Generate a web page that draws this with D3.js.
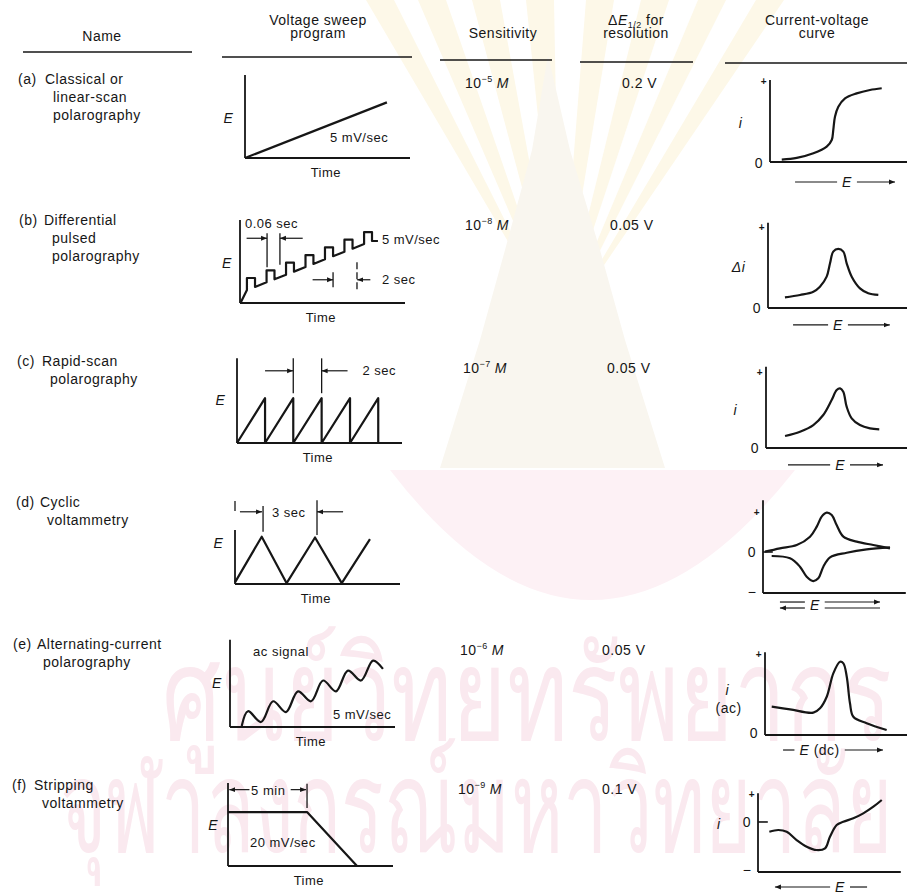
<!DOCTYPE html>
<html>
<head>
<meta charset="utf-8">
<script src="https://cdn.jsdelivr.net/npm/d3@7/dist/d3.min.js"></script>
<style>
  body { margin: 0; background: #fff; }
  svg text { font-family: "Liberation Sans", Arial, sans-serif; font-size: 14px; letter-spacing: 0.5px; fill: #161616; }
</style>
</head>
<body>
<div id="chart"></div>
<script>
const WIDTH = 907
const HEIGHT = 894

// ---- table content ----
const NAMES = [
    ["(a)", "Classical or", "linear-scan", "polarography"],
    ["(b)", "Differential", "pulsed", "polarography"],
    ["(c)", "Rapid-scan", "polarography"],
    ["(d)", "Cyclic", "voltammetry"],
    ["(e)", "Alternating-current", "polarography"],
    ["(f)", "Stripping", "voltammetry"]
];
const SENS_EXP = ["\u22125", "\u22128", "\u22127", null, "\u22126", "\u22129"];
const RESOLUTION = ["0.2 V", "0.05 V", "0.05 V", null, "0.05 V", "0.1 V"];

// voltage sweep programs: [time, E], both 0-100 of the sketch box
const SWEEP_A = [[0, 0], [86, 67]];
const SWEEP_B = [[0.6, 1.2], [4.2, 15.7], [4.2, 30.1], [9.1, 30.1], [9.1, 19.3],
    [16.1, 24.9], [16.1, 39.4], [20.9, 39.4], [20.9, 28.5],
    [27.9, 34.1], [27.9, 48.6], [32.7, 48.6], [32.7, 37.8],
    [39.7, 43.4], [39.7, 57.8], [44.5, 57.8], [44.5, 47],
    [51.5, 52.6], [51.5, 67.1], [56.4, 67.1], [56.4, 56.3],
    [63.3, 61.8], [63.3, 76.3], [68.2, 76.3], [68.2, 65.4],
    [75.2, 71.1], [75.2, 85.5], [80, 85.5], [80, 74.7], [83.6, 74.7]];
const SWEEP_C = [[0, 0], [17, 54], [17, 0], [34.1, 54], [34.1, 0], [51.3, 54], [51.3, 0],
    [68.5, 54], [68.5, 0], [85.6, 54], [85.6, 0]];
const SWEEP_D = [[0, 2], [16.2, 57], [31.3, 1], [48.5, 56], [64.7, 1], [81.8, 54]];
const SWEEP_E = [[7.1, 1.2], [10.9, 19], [18.8, 6], [26.1, 31], [33.9, 18], [41.2, 43],
    [49.1, 31], [56.4, 56], [64.2, 43], [71.5, 68], [79.4, 56], [86.7, 80], [92.7, 70]];
const SWEEP_F = [[0, 65], [47.9, 65], [78.2, 0]];
const SWEEPS = [SWEEP_A, SWEEP_B, SWEEP_C, SWEEP_D, SWEEP_E, SWEEP_F];
const SWEEP_TOP = [100, 100, 102, 65, 105, 100];

// notes written inside the sweep sketches: [text, time, E]
const SWEEP_NOTES = [
    [["5 mV/sec", 51.5, 19]],
    [["0.06 sec", 3, 90], ["5 mV/sec", 86, 71], ["2 sec", 86, 23]],
    [["2 sec", 76, 82]],
    [["3 sec", 22.4, 81]],
    [["ac signal", 14, 85.5], ["5 mV/sec", 62.4, 9.6]],
    [["5 min", 14, 86], ["20 mV/sec", 13.3, 23]]
];
// dimension arrows: [from time, to time, E]
const SWEEP_ARROWS = [
    [],
    [[4, 16.4, 78], [38, 24.2, 78], [44, 56.4, 28], [79, 71, 28]],
    [[17, 34, 87], [67, 51.3, 87]],
    [[3, 16.4, 87], [65.5, 49.7, 87]],
    [],
    [[13, 0.8, 92], [38, 47.3, 92]]
];
// dimension ticks: [time, E from, E to, dashed]
const SWEEP_TICKS = [
    [],
    [[16.4, 84, 43], [24.2, 84, 46], [56.4, 37, 19], [70.9, 49, 16, true]],
    [[34.1, 102, 60], [51.3, 102, 60]],
    [[0, 100, 88], [17, 94, 63], [49.7, 101, 59]],
    [],
    [[47.9, 99, 70]]
];

// current-voltage curves: [E, i], 0-100 of the sketch box
const IV_A = [[8.4, 3], [19.1, 5], [31, 10.6], [40.5, 18.7], [44.1, 26.8], [45.2, 39], [46.4, 55.2],
    [48.8, 67.4], [53.6, 77.7], [61.9, 83.7], [71.4, 87.8], [79.8, 89.9]];
const IV_B = [[12.1, 13], [22.9, 15.9], [32.4, 19.9], [37.1, 26], [41.9, 38.2], [44.3, 54.5], [46.6, 68.7],
    [50.2, 72], [53.8, 68.7], [56.2, 54.5], [59.8, 38.2], [65.7, 24], [71.6, 18], [78.8, 15.9]];
const IV_C = [[13.6, 14.6], [24.3, 19.9], [33.8, 28], [40.9, 40.2], [46.9, 58.5], [50.5, 70.7], [52.9, 72.8],
    [55.2, 68.7], [57.6, 50.4], [61.2, 36.2], [67.1, 28], [74.3, 24], [80.9, 22.8]];
const IV_D_UP = [[1.4, 50.4], [12.1, 54.5], [24.1, 58.5], [33.6, 68.7], [38.4, 80.9], [41.9, 93.1], [45.5, 98],
    [49.1, 95.1], [52.6, 82.9], [57.4, 68.7], [66.9, 62.6], [78.8, 58.5], [90.7, 54.5]];
const IV_D_DOWN = [[6.2, 45.1], [19.3, 42.3], [26.4, 32.1], [31.2, 19.9], [35.9, 14.6], [39.5, 17.9],
    [43.1, 32.1], [47.9, 43.5], [59.8, 49.1], [74.1, 53.3], [90.7, 55.7]];
const IV_E = [[4.8, 34.5], [17.9, 31.3], [34.5, 27.2], [39.3, 32.6], [44.1, 46.7], [48.8, 75.2], [53.6, 89.4],
    [56, 87.4], [58.4, 71.1], [60.7, 38.7], [63.1, 22.3], [72.6, 14.3], [86.9, 6.1]];
const IV_F = [[8.1, 49.1], [14.5, 51.2], [20.5, 49.1], [27.6, 39], [34.8, 30.9], [41.9, 26.8], [47.9, 28.9],
    [51.4, 43], [56.2, 57.3], [60.9, 61.3], [68.1, 65.5], [75.2, 71.5], [82.4, 79.6], [88.4, 87.8]];
const IV_CURVES = [[IV_A], [IV_B], [IV_C], [IV_D_UP, IV_D_DOWN], [IV_E], [IV_F]];
const IV_TOP = [100, 104, 99, 113, 101, 96];
const IV_TICKS = [
    [["+", 97.6], ["0", -1]],
    [["+", 97.6], ["0", 0]],
    [["+", 91.5], ["0", 0]],
    [["+", 97.6], ["0", 50], ["\u2212", 1]],
    [["+", 97.6], ["0", 2]],
    [["+", 94], ["0", 61], ["\u2212", 2]]
];
const IV_ZERO_TICK = [null, null, null, 50, null, 61];
const IV_YLABEL = [[["i", -21, 48]], [["\u0394i", -21, 50]], [["i", -22, 46]], [],
    [["i", -27, 55], ["(ac)", -26, 33]], [["i", -28, 59]]];
const IV_EAXIS = [
    {y: -24.4, from: 17.9, at: 55, to: 89.3, arrow: "end"},
    {y: -20.7, from: 17.9, at: 50, to: 87, arrow: "end"},
    {y: -20.7, from: 15.7, at: 52.9, to: 83.6, arrow: "end"},
    {y: -11, y2: -18.3, from: 12.1, at: 37, to: 83.6, arrow: "both"},
    {y: -18.3, from: 12.9, at: 39, to: 84.3, arrow: "end", dc: true},
    {y: -18.3, from: 12.1, at: 58.6, to: 77.9, arrow: "start"}
];

// library stamp printed behind the scan
const STAMP_LINES = ["ศูนย์วิทยทรัพยากร", "จุฬาลงกรณ์มหาวิทยาลัย"];

// ---- layout ----
const NAME_Y = [84, 225, 366, 507, 649, 790];
const NAME_X = [[18, 45, 53], [19, 44, 52], [17, 42, 50], [16, 40, 47], [13, 37, 43], [12, 34, 42]];
const VALUE_Y = [88, 230, 373, 0, 655, 794];
const SENS_X = [465, 465, 463, 0, 460, 458];
const RES_X = [622, 610, 607, 0, 602, 602];
const SWEEP_ORIGIN = [[245, 158], [240, 303], [237, 443], [235, 584], [230, 727], [228, 866]];
const E_LABEL = [[-10, 48], [-8, 48], [-10, 52], [-10, 49], [-8, 53], [-9, 49]];
const IV_ORIGIN = [[770, 162], [768, 308], [766, 448], [763, 593], [765, 735], [758, 872]];

var svg = d3.select("#chart").append("svg")
    .attr("width", WIDTH)
    .attr("height", HEIGHT);

svg.append("defs").append("marker")
    .attr("id", "arr")
    .attr("viewBox", "0 0 10 10")
    .attr("refX", 10).attr("refY", 5)
    .attr("markerWidth", 6).attr("markerHeight", 6)
    .attr("markerUnits", "userSpaceOnUse")
    .attr("orient", "auto-start-reverse")
    .append("path")
    .attr("d", "M0,1L10,5L0,9z")
    .attr("fill", "#161616");

// faint stamp behind the table
var stamp = svg.append("g");
[380, 432, 486, 540, 600, 655, 712, 770].forEach(function(tx) {
    stamp.append("path")
        .attr("d", `M560,330L${tx - 14},0L${tx + 14},0Z`)
        .attr("fill", "#fdf8e8");
});
stamp.append("path")
    .attr("d", "M548,55L532,150L505,250L480,340L455,420L440,468L665,468L650,420L625,340L600,250L570,150Z")
    .attr("fill", "#f9f6ef");
stamp.append("path")
    .attr("d", "M390,470Q590,730 795,470Z")
    .attr("fill", "#fdf1f5");
stamp.append("text")
    .attr("x", 162).attr("y", 740)
    .attr("textLength", 730).attr("lengthAdjust", "spacingAndGlyphs")
    .style("font-size", "130px").style("fill", "#fae9ef").style("letter-spacing", "0px")
    .text(STAMP_LINES[0]);
stamp.append("text")
    .attr("x", 60).attr("y", 852)
    .attr("textLength", 832).attr("lengthAdjust", "spacingAndGlyphs")
    .style("font-size", "130px").style("fill", "#fae9ef").style("letter-spacing", "0px")
    .text(STAMP_LINES[1]);

// ---- header ----
var head = svg.append("g");
head.append("text").attr("x", 102).attr("y", 41).attr("text-anchor", "middle").text("Name");
head.append("text").attr("x", 318).attr("y", 25).attr("text-anchor", "middle").text("Voltage sweep");
head.append("text").attr("x", 318).attr("y", 38).attr("text-anchor", "middle").text("program");
head.append("text").attr("x", 503).attr("y", 38).attr("text-anchor", "middle").text("Sensitivity");
var dE = head.append("text").attr("x", 636).attr("y", 25).attr("text-anchor", "middle");
dE.append("tspan").text("\u0394");
dE.append("tspan").style("font-style", "italic").text("E");
dE.append("tspan").attr("dy", 3).style("font-size", "9px").text("1/2");
dE.append("tspan").attr("dy", -3).text(" for");
head.append("text").attr("x", 636).attr("y", 38).attr("text-anchor", "middle").text("resolution");
head.append("text").attr("x", 817).attr("y", 25).attr("text-anchor", "middle").text("Current-voltage");
head.append("text").attr("x", 817).attr("y", 38).attr("text-anchor", "middle").text("curve");
[[23, 192, 52], [222, 412, 57], [440, 552, 60], [580, 693, 62], [725, 907, 63]].forEach(function(r) {
    head.append("line")
        .attr("x1", r[0]).attr("x2", r[1]).attr("y1", r[2]).attr("y2", r[2])
        .attr("stroke", "#161616").attr("stroke-width", 1.6);
});

// ---- rows ----
NAMES.forEach(function(lines, r) {
    var t = svg.append("text").attr("y", NAME_Y[r]);
    t.append("tspan").attr("x", NAME_X[r][0]).text(lines[0]);
    t.append("tspan").attr("x", NAME_X[r][1]).text(lines[1]);
    lines.slice(2).forEach(function(l, k) {
        t.append("tspan").attr("x", NAME_X[r][2]).attr("y", NAME_Y[r] + 18 * (k + 1)).text(l);
    });

    if (SENS_EXP[r]) {
        var s = svg.append("text").attr("x", SENS_X[r]).attr("y", VALUE_Y[r]);
        s.append("tspan").text("10");
        s.append("tspan").attr("dy", -6).style("font-size", "9px").text(SENS_EXP[r]);
        s.append("tspan").attr("dy", 6).attr("dx", 4).style("font-style", "italic").text("M");
        svg.append("text").attr("x", RES_X[r]).attr("y", VALUE_Y[r]).text(RESOLUTION[r]);
    }
});

var line = d3.line();

// voltage sweep sketches
SWEEPS.forEach(function(data, r) {
    var ox = SWEEP_ORIGIN[r][0], oy = SWEEP_ORIGIN[r][1];
    var x = d3.scaleLinear().domain([0, 100]).range([ox, ox + 165]);
    var y = d3.scaleLinear().domain([0, 100]).range([oy, oy - 83]);
    var g = svg.append("g").attr("stroke", "#161616").attr("fill", "none");

    g.append("line").attr("x1", x(0)).attr("x2", x(0)).attr("y1", y(0)).attr("y2", y(SWEEP_TOP[r]))
        .attr("stroke-width", 1.8);
    g.append("line").attr("x1", x(0)).attr("x2", x(100)).attr("y1", y(0)).attr("y2", y(0))
        .attr("stroke-width", 1.8);

    g.append("path").datum(data)
        .attr("stroke-width", 2.2)
        .attr("stroke-linejoin", "round")
        .attr("d", line.x(d => x(d[0])).y(d => y(d[1]))
            .curve(r === 4 ? d3.curveCatmullRom : d3.curveLinear));

    SWEEP_TICKS[r].forEach(function(t) {
        g.append("line").attr("x1", x(t[0])).attr("x2", x(t[0])).attr("y1", y(t[1])).attr("y2", y(t[2]))
            .attr("stroke-width", 1.3)
            .attr("stroke-dasharray", t[3] ? "7,3" : null);
    });
    SWEEP_ARROWS[r].forEach(function(a) {
        g.append("line").attr("x1", x(a[0])).attr("x2", x(a[1])).attr("y1", y(a[2])).attr("y2", y(a[2]))
            .attr("stroke-width", 1.2)
            .attr("marker-end", "url(#arr)");
    });
    SWEEP_NOTES[r].forEach(function(n) {
        svg.append("text").attr("x", x(n[1])).attr("y", y(n[2])).style("font-size", "13px").text(n[0]);
    });

    svg.append("text").attr("x", x(E_LABEL[r][0])).attr("y", y(E_LABEL[r][1]) + 5)
        .attr("text-anchor", "middle").style("font-style", "italic").text("E");
    svg.append("text").attr("x", x(49)).attr("y", oy + 19)
        .attr("text-anchor", "middle").style("font-size", "13px").text("Time");
});

// current-voltage sketches
IV_CURVES.forEach(function(curves, r) {
    var ox = IV_ORIGIN[r][0], oy = IV_ORIGIN[r][1];
    var x = d3.scaleLinear().domain([0, 100]).range([ox, ox + 140]);
    var y = d3.scaleLinear().domain([0, 100]).range([oy, oy - 82]);
    var g = svg.append("g").attr("stroke", "#161616").attr("fill", "none");

    g.append("line").attr("x1", x(0)).attr("x2", x(0)).attr("y1", y(0)).attr("y2", y(IV_TOP[r]))
        .attr("stroke-width", 1.8);
    g.append("line").attr("x1", x(0)).attr("x2", Math.min(x(102), WIDTH)).attr("y1", y(0)).attr("y2", y(0))
        .attr("stroke-width", 1.8);
    if (IV_ZERO_TICK[r] !== null) {
        g.append("line").attr("x1", x(0)).attr("x2", x(7)).attr("y1", y(IV_ZERO_TICK[r])).attr("y2", y(IV_ZERO_TICK[r]))
            .attr("stroke-width", 1.6);
    }

    curves.forEach(function(c) {
        g.append("path").datum(c)
            .attr("stroke-width", 2.2)
            .attr("d", line.x(d => x(d[0])).y(d => y(d[1])).curve(d3.curveCatmullRom));
    });

    IV_TICKS[r].forEach(function(t) {
        var plus = t[0] === "+";
        svg.append("text").attr("x", x(0) - (plus ? 6 : 11)).attr("y", y(t[1]) + (plus ? 3 : 5))
            .attr("text-anchor", "middle")
            .style("font-size", plus ? "10px" : "14px").style("font-weight", plus ? "bold" : null)
            .text(t[0]);
    });
    IV_YLABEL[r].forEach(function(l) {
        svg.append("text").attr("x", x(l[1])).attr("y", y(l[2]) + 5)
            .attr("text-anchor", "middle")
            .style("font-style", l[0] === "(ac)" ? null : "italic")
            .text(l[0]);
    });

    // the E direction arrow under each sketch
    var ea = IV_EAXIS[r];
    var ys = ea.y2 === undefined ? [y(ea.y)] : [y(ea.y), y(ea.y2)];
    var yMid = d3.mean(ys);
    var lab = svg.append("text").attr("x", x(ea.at)).attr("y", yMid + 5).attr("text-anchor", "middle");
    lab.append("tspan").style("font-style", "italic").text("E");
    if (ea.dc) lab.append("tspan").text(" (dc)");
    var w = lab.node().getComputedTextLength();
    var left = x(ea.at) - w / 2 - 5, right = x(ea.at) + w / 2 + 5;
    ys.forEach(function(yy, k) {
        var l1 = g.append("line").attr("x1", x(ea.from)).attr("x2", left).attr("y1", yy).attr("y2", yy)
            .attr("stroke-width", 1.2);
        var l2 = g.append("line").attr("x1", right).attr("x2", x(ea.to)).attr("y1", yy).attr("y2", yy)
            .attr("stroke-width", 1.2);
        if (ea.arrow === "end" || (ea.arrow === "both" && k === 0)) l2.attr("marker-end", "url(#arr)");
        if (ea.arrow === "start" || (ea.arrow === "both" && k === 1)) l1.attr("marker-start", "url(#arr)");
    });
});
</script>
</body>
</html>
